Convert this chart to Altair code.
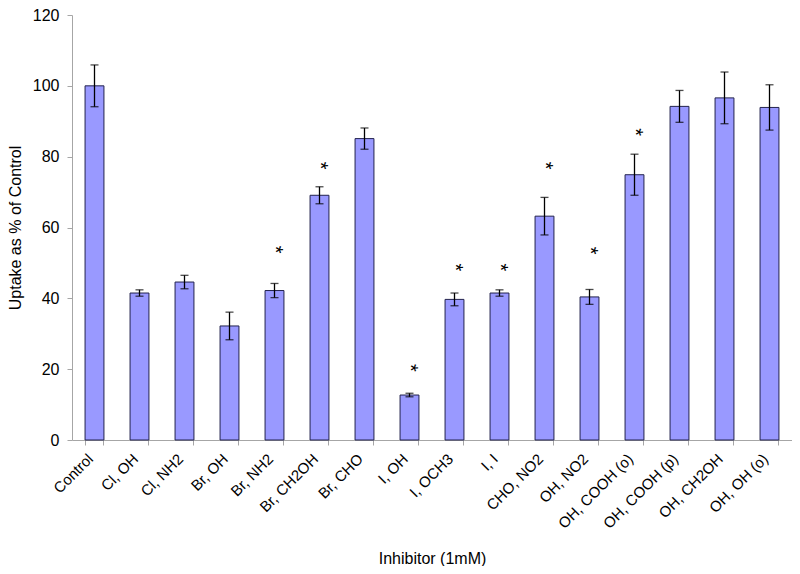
import altair as alt
import pandas as pd

categories = ["Control", "Cl, OH", "Cl, NH2", "Br, OH", "Br, NH2", "Br, CH2OH", "Br, CHO",
              "I, OH", "I, OCH3", "I, I", "CHO, NO2", "OH, NO2", "OH, COOH (o)",
              "OH, COOH (p)", "OH, CH2OH", "OH, OH (o)"]
values = [100.0, 41.5, 44.6, 32.2, 42.2, 69.1, 85.1, 12.7, 39.7, 41.5, 63.2, 40.4, 74.9, 94.2, 96.6, 93.9]
errors = [5.9, 0.9, 1.9, 3.9, 2.0, 2.4, 3.0, 0.5, 1.8, 0.9, 5.3, 2.1, 5.8, 4.5, 7.3, 6.4]

star_categories = ["Br, NH2", "Br, CH2OH", "I, OH", "I, OCH3", "I, I", "CHO, NO2", "OH, NO2", "OH, COOH (o)"]
star_values = [52.9, 76.6, 19.5, 47.9, 47.9, 76.6, 52.6, 86.1]

y_ticks = [0, 20, 40, 60, 80, 100, 120]

df = pd.DataFrame({
    "cat": categories,
    "val": values,
    "lo": [v - e for v, e in zip(values, errors)],
    "hi": [v + e for v, e in zip(values, errors)],
})
stars = pd.DataFrame({"cat": star_categories, "y": star_values, "t": ["*"] * len(star_values)})

FONT = "Arial, Liberation Sans"
AX = "#a6a6a6"

xscale = alt.Scale(domain=categories, paddingInner=0.58, paddingOuter=0.29)
yscale = alt.Scale(domain=[0, 120])

x_main = alt.X("cat:N", scale=xscale, sort=categories,
               axis=alt.Axis(title="Inhibitor (1mM)", labelAngle=-45, labelFont=FONT, labelFontSize=15,
                             labelColor="#000000", labelAlign="right", labelBaseline="middle",
                             labelPadding=16, labelOffset=-4, ticks=False, domainColor=AX, domainWidth=1,
                             titleFont=FONT, titleFontSize=16, titleFontWeight="normal",
                             titleColor="#000000", titleY=123, titleBaseline="alphabetic",
                             orient="bottom"))
x_ticks = alt.X("cat:N", scale=xscale, sort=categories,
                axis=alt.Axis(title=None, labels=False, domain=False, ticks=True, tickColor=AX,
                              tickSize=5, bandPosition=1, tickExtra=True, orient="bottom"))
x_plain = alt.X("cat:N", scale=xscale, sort=categories, axis=None)
y_enc = alt.Y("val:Q", scale=yscale,
              axis=alt.Axis(title="Uptake as % of Control", values=y_ticks, grid=False,
                            labelFont=FONT, labelFontSize=16, labelColor="#000000", labelPadding=8,
                            tickColor=AX, tickSize=5, domainColor=AX,
                            titleFont=FONT, titleFontSize=16, titleFontWeight="normal",
                            titleColor="#000000", titleX=-57, titleBaseline="middle"))

bars = alt.Chart(df).mark_bar(color="#9999FF", stroke="#22224d", strokeWidth=1).encode(
    x=x_main, y=y_enc)

tick_layer = alt.Chart(df).mark_point(opacity=0).encode(x=x_ticks, y=alt.Y("val:Q", scale=yscale))

err = alt.Chart(df).mark_rule(color="#000000", strokeWidth=1.3).encode(
    x=x_plain, y=alt.Y("lo:Q", scale=yscale), y2="hi:Q")
cap_hi = alt.Chart(df).mark_tick(color="#000000", size=8, thickness=1.3).encode(
    x=x_plain, y=alt.Y("hi:Q", scale=yscale))
cap_lo = alt.Chart(df).mark_tick(color="#000000", size=8, thickness=1.3).encode(
    x=x_plain, y=alt.Y("lo:Q", scale=yscale))

star_layer = alt.Chart(stars).mark_text(font=FONT, fontSize=20, angle=90, color="#000000",
                                        baseline="middle", align="center", dx=-3).encode(
    x=x_plain, y=alt.Y("y:Q", scale=yscale), text="t:N")

chart = alt.layer(bars, tick_layer, err, cap_hi, cap_lo, star_layer).resolve_axis(
    x="independent"
).properties(
    width=720, height=425,
    padding={"left": 64, "top": 7, "right": 0, "bottom": 126},
    autosize=alt.AutoSizeParams(type="none"),
    background="#ffffff",
).configure_view(stroke=None)

chart.save("out.html", embed_options={"renderer": "svg", "actions": False})
